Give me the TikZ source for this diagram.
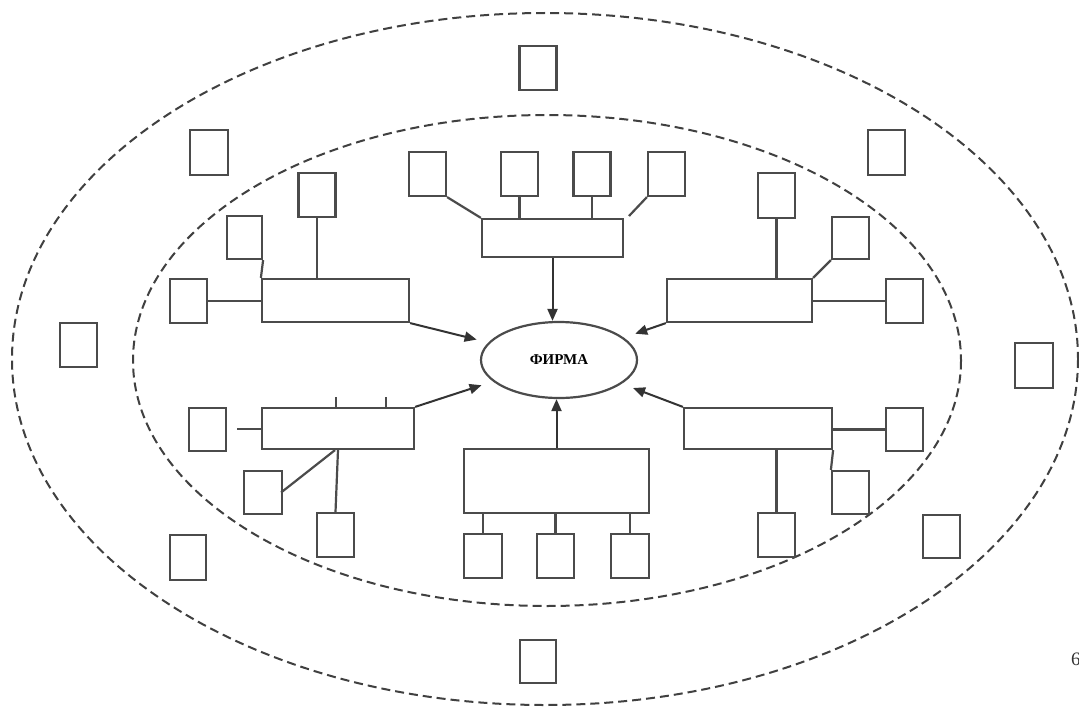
\documentclass[tikz,border=0pt]{standalone}
\usepackage{fontspec}
\setmainfont{Liberation Serif}
\usetikzlibrary{arrows.meta,shapes.geometric}
\definecolor{ln}{RGB}{75,75,75}
\begin{document}
\begin{tikzpicture}[x=1pt,y=-1pt,
  sbox/.style={draw=ln,line width=2.2pt,inner sep=0pt,minimum width=37pt,minimum height=44pt},
  bigbox/.style={draw=ln,line width=2.2pt,inner sep=0pt},
  link/.style={draw=ln,line width=2.2pt},
  arr/.style={draw=black!80,line width=2pt,-{Triangle[length=12pt,width=10pt]}},
  zone/.style={draw=black!75,line width=2pt,dash pattern=on 9pt off 5pt}]
\useasboundingbox (0,0) rectangle (1079,709);
\fill[white] (0,0) rectangle (1079,709);
% zones
\draw[zone] (545,359) ellipse [x radius=533, y radius=346];
\draw[zone] (547,360.5) ellipse [x radius=414, y radius=245.5];
% firm
\node[ellipse,draw=ln,line width=2.2pt,minimum width=156pt,minimum height=76pt,inner sep=0pt,font=\fontsize{15}{17}\selectfont\bfseries] (firm) at (559,360) {ФИРМА};
% outer boxes
\node[sbox,minimum width=37pt,minimum height=44pt] (o1) at (538,68) {};
\node[sbox,minimum width=38pt,minimum height=45pt] (o2) at (209,152.5) {};
\node[sbox,minimum width=37pt,minimum height=45pt] (o3) at (886.5,152.5) {};
\node[sbox,minimum width=37pt,minimum height=44pt] (o4) at (78.5,345) {};
\node[sbox,minimum width=38pt,minimum height=45pt] (o5) at (1034,365.5) {};
\node[sbox,minimum width=36pt,minimum height=45pt] (o6) at (188,557.5) {};
\node[sbox,minimum width=37pt,minimum height=43pt] (o7) at (941.5,536.5) {};
\node[sbox,minimum width=36pt,minimum height=43pt] (o8) at (538,661.5) {};
% top group
\node[bigbox,minimum width=141pt,minimum height=38pt] (tr) at (552.5,238) {};
\node[sbox] (t1) at (427.5,174) {};
\node[sbox] (t2) at (519.5,174) {};
\node[sbox] (t3) at (592,174) {};
\node[sbox] (t4) at (666.5,174) {};
\coordinate (t4e) at (629,216);
\draw[link] (t1.south east) -- (tr.north west);
\draw[link] (t2.south) -- (t2.south |- tr.north);
\draw[link] (t3.south) -- (t3.south |- tr.north);
\draw[link] (t4.south west) -- (t4e);
\draw[arr] (tr.south) -- (tr.south |- firm.north);
% upper-left group
\node[bigbox,minimum width=147pt,minimum height=43pt] (ulr) at (335.5,300.5) {};
\node[sbox] (ul1) at (317,195) {};
\node[sbox,minimum width=35pt,minimum height=43pt] (ul2) at (244.5,237.5) {};
\node[sbox] (ul3) at (188.5,301) {};
\draw[link] (ul1.south) -- (ul1.south |- ulr.north);
\draw[link] (ul2.south east) -- (ulr.north west);
\draw[link] (ul3.east) -- (ul3.east -| ulr.west);
\draw[arr,shorten >=12pt] (ulr.south east) -- (firm);
% upper-right group
\node[bigbox,minimum width=145pt,minimum height=43pt] (urr) at (739.5,300.5) {};
\node[sbox,minimum height=45pt] (ur1) at (776.5,195.5) {};
\node[sbox,minimum height=42pt] (ur2) at (850.5,238) {};
\node[sbox] (ur3) at (904.5,301) {};
\draw[link] (ur1.south) -- (ur1.south |- urr.north);
\draw[link] (ur2.south west) -- (urr.north east);
\draw[link] (ur3.west) -- (ur3.west -| urr.east);
\draw[arr,shorten >=12pt] (urr.south west) -- (firm);
% lower-left group
\node[bigbox,minimum width=152pt,minimum height=41pt] (llr) at (338,428.5) {};
\node[sbox,minimum height=43pt] (ll1) at (207.5,429.5) {};
\node[sbox,minimum width=38pt,minimum height=43pt] (ll2) at (263,492.5) {};
\node[sbox] (ll3) at (335.5,535) {};
\coordinate (llk1) at (336,397);
\coordinate (llk2) at (386,397);
\coordinate (ll1e) at (237,429);
\draw[link] (llk1) -- (llk1 |- llr.north);
\draw[link] (llk2) -- (llk2 |- llr.north);
\draw[link] (ll1e) -- (ll1e -| llr.west);
\draw[link] ([xshift=-2pt]ll2.east) -- ([xshift=-3pt]llr.south);
\draw[link] (ll3.north) -- (llr.south);
\draw[arr,shorten >=12pt] (llr.north east) -- (firm);
% lower-right group
\node[bigbox,minimum width=148pt,minimum height=41pt] (lrr) at (758,428.5) {};
\node[sbox,minimum height=43pt] (lr1) at (904.5,429.5) {};
\node[sbox,minimum height=43pt] (lr2) at (850.5,492.5) {};
\node[sbox] (lr3) at (776.5,535) {};
\draw[link] (lr1.west) -- (lr1.west -| lrr.east);
\draw[link] (lr2.north west) -- (lrr.south east);
\draw[link] (lr3.north) -- (lr3.north |- lrr.south);
\draw[arr,shorten >=12pt] (lrr.north west) -- (firm);
% bottom group
\node[bigbox,minimum width=185pt,minimum height=64pt] (br) at (556.5,481) {};
\node[sbox,minimum width=38pt] (b1) at (483,556) {};
\node[sbox] (b2) at (555.5,556) {};
\node[sbox,minimum width=38pt] (b3) at (630,556) {};
\draw[link] (b1.north) -- (b1.north |- br.south);
\draw[link] (b2.north) -- (b2.north |- br.south);
\draw[link] (b3.north) -- (b3.north |- br.south);
\draw[arr] (br.north) -- (br.north |- firm.south);
% page number
\node[anchor=west,inner sep=0pt,font=\fontsize{19}{22}\selectfont,text=black!80] (pg) at (1071,659) {6};
\end{tikzpicture}
\end{document}
